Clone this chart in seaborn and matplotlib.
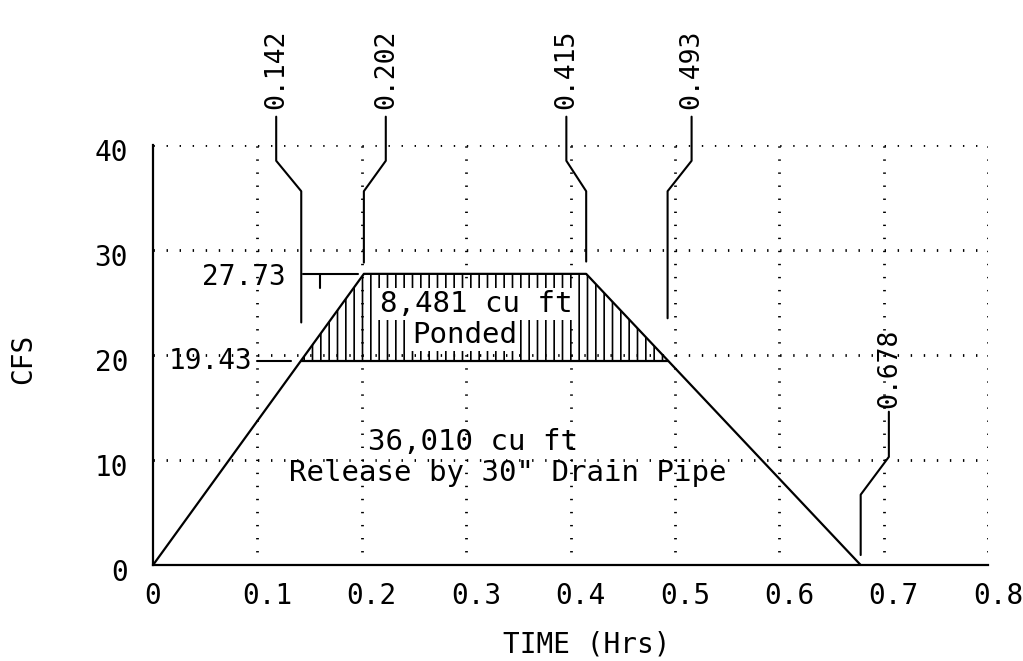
import matplotlib
matplotlib.use('Agg')
import matplotlib.pyplot as plt
import matplotlib.transforms as mtransforms
import pandas as pd
import seaborn as sns

# inflow hydrograph vertices
time_hrs = [0.0, 0.202, 0.415, 0.678]
flow_cfs = [0.0, 27.73, 27.73, 0.0]

# ponded volume above the pipe release rate
pond_time = [0.142, 0.202, 0.415, 0.493]
pond_top = [19.43, 27.73, 27.73, 19.43]
release_cfs = 19.43
peak_cfs = 27.73

# call-out times written above the chart
top_marks = [0.142, 0.202, 0.415, 0.493]
top_labels = ['0.142', '0.202', '0.415', '0.493']
top_label_x = [0.118, 0.223, 0.396, 0.516]
top_leader_end = [23.1, 28.8, 28.9, 23.5]
end_mark = 0.678
end_label = '0.678'
end_label_x = 0.705

x_ticks = [0.0, 0.1, 0.2, 0.3, 0.4, 0.5, 0.6, 0.7, 0.8]
x_tick_labels = ['0', '0.1', '0.2', '0.3', '0.4', '0.5', '0.6', '0.7', '0.8']
y_ticks = [0, 10, 20, 30, 40]

sns.set_style('white')
plt.rcParams['font.family'] = ['DejaVu Sans Mono']
plt.rcParams['text.color'] = 'black'
plt.rcParams['axes.labelcolor'] = 'black'
plt.rcParams['hatch.linewidth'] = 1.2
plt.rcParams['hatch.color'] = 'black'

fig = plt.figure(figsize=(10.23, 6.61), dpi=100)
ax = fig.add_axes([0.1496, 0.1452, 0.8162, 0.6354])

# dotted grid
dots = (0, (0.5, 4.2))
for y in y_ticks[1:]:
    ax.axhline(y, color='black', lw=2.0, ls=dots, zorder=1)
for x in x_ticks[1:]:
    ax.axvline(x, color='black', lw=2.0, ls=dots, zorder=1)

df = pd.DataFrame({'time': time_hrs, 'cfs': flow_cfs})
sns.lineplot(data=df, x='time', y='cfs', sort=False, color='black', lw=1.6,
             ax=ax, zorder=3)

# hatched ponded area
ax.fill_between(pond_time, release_cfs, pond_top, facecolor='none',
                edgecolor='black', hatch='||', linewidth=0, zorder=2)
ax.plot([pond_time[0], pond_time[-1]], [release_cfs, release_cfs],
        color='black', lw=1.6, zorder=3)

ax.set_xlim(0, 0.8)
ax.set_ylim(0, 40)
ax.set_xticks(x_ticks)
ax.set_xticklabels(x_tick_labels)
ax.set_yticks(y_ticks)
ax.tick_params(length=0, labelsize=20, colors='black')
ax.tick_params(axis='x', pad=12)
ax.tick_params(axis='y', pad=18)
shift_x = mtransforms.ScaledTranslation(10 / 100, 0, fig.dpi_scale_trans)
for lab in ax.get_xticklabels()[1:]:
    lab.set_transform(lab.get_transform() + shift_x)
shift_y = mtransforms.ScaledTranslation(0, -5 / 100, fig.dpi_scale_trans)
for lab in ax.get_yticklabels():
    lab.set_transform(lab.get_transform() + shift_y)

ax.set_xlabel('TIME (Hrs)', fontsize=20, va='center')
ax.set_ylabel('CFS', fontsize=20, va='center')
ax.xaxis.set_label_coords(0.52, -0.19)
ax.yaxis.set_label_coords(-0.155, 0.49)

for s in ['top', 'right']:
    ax.spines[s].set_visible(False)
for s in ['left', 'bottom']:
    ax.spines[s].set_color('black')
    ax.spines[s].set_linewidth(1.6)

# leaders from the top labels down to the hydrograph
for t, lab, lx, ye in zip(top_marks, top_labels, top_label_x, top_leader_end):
    ax.plot([lx, lx, t, t], [42.7, 38.5, 35.6, ye], color='black', lw=1.5,
            clip_on=False, zorder=3)
    ax.text(lx, 43.4, lab, rotation=90, ha='center', va='bottom',
            fontsize=19)

ax.plot([end_label_x, end_label_x, end_mark, end_mark], [14.6, 10.3, 6.7, 0.95],
        color='black', lw=1.5, zorder=3)
ax.text(end_label_x, 15.0, end_label, rotation=90, ha='center', va='bottom',
        fontsize=19)

# peak and release level call-outs
ax.text(0.127, peak_cfs - 0.3, f'{peak_cfs:.2f}', ha='right', va='center',
        fontsize=20)
ax.plot([0.144, 0.196], [peak_cfs, peak_cfs], color='black', lw=1.5)
ax.plot([0.160, 0.160], [peak_cfs, peak_cfs - 1.3], color='black', lw=1.5)
ax.text(0.095, release_cfs, f'{release_cfs:.2f}', ha='right', va='center',
        fontsize=20)
ax.plot([0.100, 0.132], [release_cfs, release_cfs], color='black', lw=1.5)

box = dict(facecolor='white', edgecolor='none', pad=1.5)
ax.text(0.31, 24.9, '8,481 cu ft', ha='center', va='center', fontsize=21,
        bbox=box, zorder=4)
ax.text(0.299, 21.9, 'Ponded', ha='center', va='center', fontsize=21,
        bbox=box, zorder=4)
ax.text(0.307, 11.7, '36,010 cu ft', ha='center', va='center', fontsize=21,
        zorder=4)
ax.text(0.340, 8.8, 'Release by 30" Drain Pipe', ha='center', va='center',
        fontsize=21, zorder=4)

plt.savefig('out.png', dpi=100)
plt.close()
